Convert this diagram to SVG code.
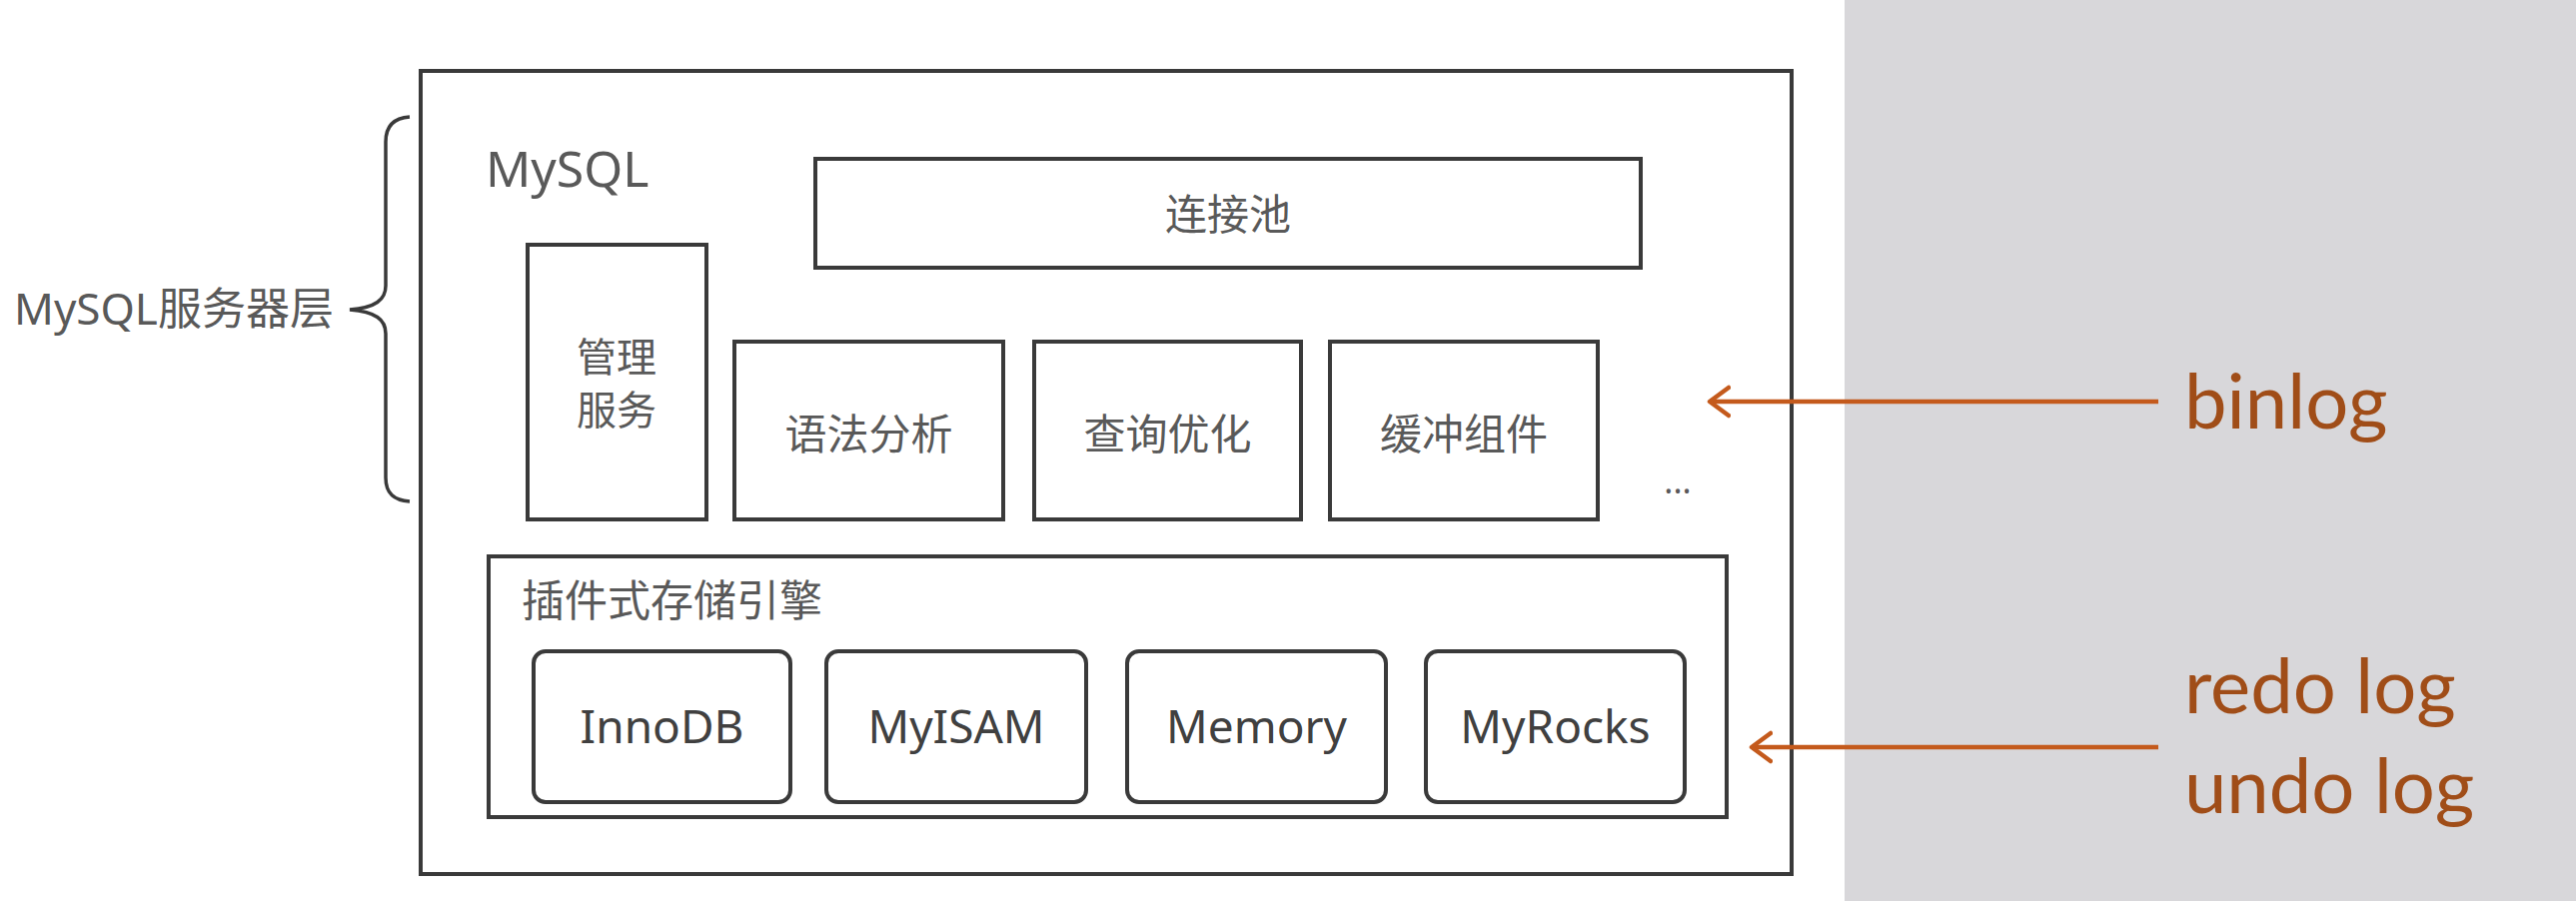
<svg xmlns="http://www.w3.org/2000/svg" width="2578" height="902" viewBox="0 0 2578 902">
  <style>
    .box { fill: none; stroke: #3a3a3a; stroke-width: 4; }
    .t { font-family: 'Noto Sans', 'Noto Sans CJK SC', sans-serif; fill: #595959; }
    .cjk { font-size: 42px; text-anchor: middle; }
    .eng { font-size: 46px; text-anchor: middle; fill: #404040; }
    .log { font-family: Lato, 'Open Sans', sans-serif; font-size: 76px; fill: #a04d18; }
    .conn { stroke: #c45a1c; stroke-width: 4.5; fill: none; marker-end: url(#arr); }
  </style>
  <defs>
    <marker id="arr" viewBox="0 0 24 34" refX="21" refY="17" markerWidth="24" markerHeight="34" markerUnits="userSpaceOnUse" orient="auto">
      <path d="M2,3 L21,17 L2,31" fill="none" stroke="#c45a1c" stroke-width="4.5" stroke-linecap="round" stroke-linejoin="round"/>
    </marker>
  </defs>
  <rect x="0" y="0" width="2578" height="902" fill="#ffffff"/>
  <rect x="1846" y="0" width="732" height="902" fill="#d8d7da"/>

  <g id="server-layer">
    <path d="M410,117 C394,118 386,126 386,142 L386,286 C386,300 376,308 350,310 C376,312 386,320 386,334 L386,478 C386,494 394,501 410,502" fill="none" stroke="#3a3a3a" stroke-width="3.5"/>
    <text class="t" x="14" y="325" font-size="44">MySQL服务器层</text>
  </g>

  <g id="mysql">
    <rect class="box" x="421" y="71" width="1372" height="804"/>
    <text class="t" x="486" y="187" font-size="50">MySQL</text>
  </g>

  <g id="conn-pool">
    <rect class="box" x="816" y="159" width="826" height="109"/>
    <text class="t cjk" x="1229" y="230">连接池</text>
  </g>

  <g id="mgmt">
    <rect class="box" x="528" y="245" width="179" height="275"/>
    <text class="t" x="617" y="372" font-size="40" text-anchor="middle">管理</text>
    <text class="t" x="617" y="425" font-size="40" text-anchor="middle">服务</text>
  </g>

  <g id="parser">
    <rect class="box" x="735" y="342" width="269" height="178"/>
    <text class="t cjk" x="869.5" y="450">语法分析</text>
  </g>

  <g id="optimizer">
    <rect class="box" x="1035" y="342" width="267" height="178"/>
    <text class="t cjk" x="1168.5" y="450">查询优化</text>
  </g>

  <g id="cache">
    <rect class="box" x="1331" y="342" width="268" height="178"/>
    <text class="t cjk" x="1465" y="450">缓冲组件</text>
  </g>

  <g id="more">
    <text class="t" x="1679" y="494" font-size="34" text-anchor="middle">...</text>
  </g>

  <g id="storage">
    <rect class="box" x="489" y="557" width="1239" height="261"/>
    <text class="t" x="522" y="617" font-size="43">插件式存储引擎</text>
  </g>

  <g id="innodb">
    <rect class="box" x="534" y="652" width="257" height="151" rx="12"/>
    <text class="t eng" x="662.5" y="744">InnoDB</text>
  </g>
  <g id="myisam">
    <rect class="box" x="827" y="652" width="260" height="151" rx="12"/>
    <text class="t eng" x="957" y="744">MyISAM</text>
  </g>
  <g id="memory">
    <rect class="box" x="1128" y="652" width="259" height="151" rx="12"/>
    <text class="t eng" x="1257.5" y="744">Memory</text>
  </g>
  <g id="myrocks">
    <rect class="box" x="1427" y="652" width="259" height="151" rx="12"/>
    <text class="t eng" x="1556.5" y="744">MyRocks</text>
  </g>

  <g id="binlog">
    <text class="log" x="2186" y="429">binlog</text>
  </g>
  <g id="redo-undo">
    <text class="log" x="2186" y="714">redo log</text>
    <text class="log" x="2186" y="814">undo log</text>
  </g>

  <g id="connectors">
    <line class="conn" x1="2160" y1="402" x2="1711" y2="402"/>
    <line class="conn" x1="2160" y1="748" x2="1753" y2="748"/>
  </g>
</svg>
